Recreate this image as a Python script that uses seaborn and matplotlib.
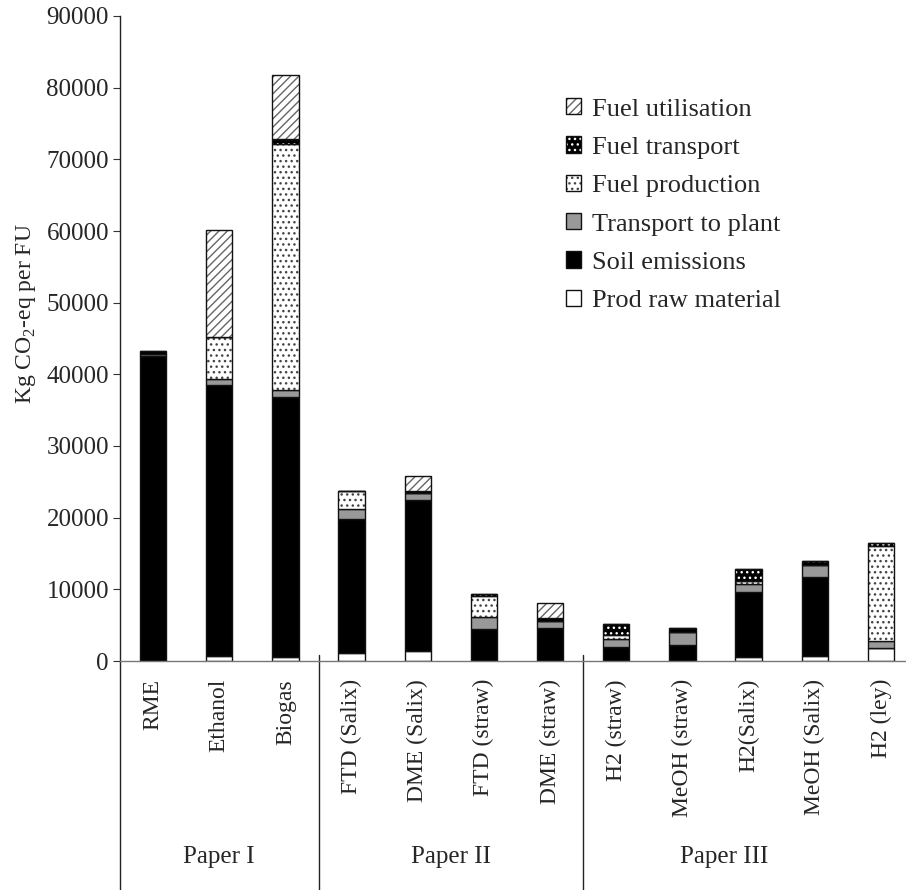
import numpy as np
import pandas as pd
import matplotlib
matplotlib.use("Agg")
import matplotlib.pyplot as plt
import matplotlib.patches as mpatches
import matplotlib.transforms as mtransforms
from matplotlib.colors import to_rgba
import seaborn as sns

# ---------------- data ----------------
categories = ["RME", "Ethanol", "Biogas", "FTD (Salix)", "DME (Salix)", "FTD (straw)",
              "DME (straw)", "H2 (straw)", "MeOH (straw)", "H2(Salix)", "MeOH (Salix)", "H2 (ley)"]
groups = ["Paper I", "Paper II", "Paper III"]
group_sizes = [3, 4, 5]
group_label_x = [1.0, 4.5, 8.63]

prod_raw_material = [0, 700, 600, 1160, 1400, 0, 0, 0, 0, 600, 750, 1800]
soil_emissions = [42600, 37800, 36300, 18650, 21100, 4400, 4650, 1900, 2200, 9000, 10950, 0]
transport_to_plant = [200, 850, 900, 1400, 900, 1800, 950, 1170, 1900, 1150, 1700, 1000]
fuel_production = [0, 5900, 34400, 2500, 0, 2900, 0, 530, 0, 450, 0, 13300]
fuel_transport = [500, 0, 600, 0, 300, 250, 450, 1500, 450, 1600, 500, 300]
fuel_utilisation = [0, 14900, 8900, 0, 2100, 0, 2050, 0, 0, 0, 0, 0]

y_ticks = [0, 10000, 20000, 30000, 40000, 50000, 60000, 70000, 80000, 90000]

# ---------------- style ----------------
sns.set_style("white")
plt.rcParams["font.family"] = ["Liberation Serif", "DejaVu Serif"]
plt.rcParams["mathtext.fontset"] = "custom"
plt.rcParams["mathtext.rm"] = "Liberation Serif"
plt.rcParams["hatch.linewidth"] = 1.0

df = pd.DataFrame({
    "category": categories,
    "Prod raw material": prod_raw_material,
    "Soil emissions": soil_emissions,
    "Transport to plant": transport_to_plant,
    "Fuel production": fuel_production,
    "Fuel transport": fuel_transport,
    "Fuel utilisation": fuel_utilisation,
})

# (name, face, hatch, hatch colour)
components = [
    ("Prod raw material", "white", None, None),
    ("Soil emissions", "black", None, None),
    ("Transport to plant", "#999999", None, None),
    ("Fuel production", "white", "...", "#444444"),
    ("Fuel transport", "black", "...", "#ffffff"),
    ("Fuel utilisation", "white", "////", "#666666"),
]

fig = plt.figure(figsize=(9.06, 8.90), dpi=100)
ax_left, ax_bottom = 120 / 906, 1 - 661 / 890
ax_w, ax_h = 794 / 906, 645 / 890
ax = fig.add_axes([ax_left, ax_bottom, ax_w, ax_h])

bottom = np.zeros(len(categories))
handles = {}
for name, face, hatch, hcol in components:
    vals = df[name].to_numpy(dtype=float)
    kw = dict(edgecolor="#111111", linewidth=1.0)
    if hatch:
        kw["hatch"] = hatch
    sns.barplot(data=df, x="category", y=name, order=categories, bottom=bottom,
                color=face, saturation=1, width=0.4, errorbar=None, ax=ax, **kw)
    cont = ax.containers[-1]
    for p in cont:
        p.set_edgecolor("#111111")
        p.set_facecolor(face)
        if hcol:
            p._hatch_color = to_rgba(hcol)
    h = mpatches.Patch(facecolor=face, edgecolor="#111111", linewidth=1.0, hatch=hatch)
    if hcol:
        h._hatch_color = to_rgba(hcol)
    handles[name] = h
    bottom += vals

# ---------------- axes ----------------
ax.set_xlim(-0.5, len(categories) - 0.5)
ax.set_ylim(0, 90000)
ax.set_yticks(y_ticks)
ax.set_yticklabels([str(v) for v in y_ticks], fontsize=18)
ax.set_xticks(range(len(categories)))
ax.set_xticklabels(categories, rotation=90, fontsize=17, va="top")
ax.set_xticks(np.arange(-0.5, len(categories), 1.0), minor=True)
ax.tick_params(axis="x", which="major", length=0, pad=13)
ax.tick_params(axis="x", which="minor", length=2, direction="in", color="#888888")
ax.tick_params(axis="y", which="major", length=5, direction="out", pad=3,
               color="#333333", left=True)
ax.set_xlabel("")
ax.set_ylabel(r"Kg CO$_\mathrm{2}$-eq per FU", fontsize=17)
ax.yaxis.set_label_coords((38 - 120) / 794, (661 - 314) / 645)

for s in ["top", "right"]:
    ax.spines[s].set_visible(False)
ax.spines["left"].set_color("#222222")
ax.spines["bottom"].set_color("#777777")
ax.spines["left"].set_linewidth(1.0)
ax.spines["bottom"].set_linewidth(1.0)

# group separators and labels below axis
trans = mtransforms.blended_transform_factory(ax.transData, ax.transAxes)
y_bottom = -(890 - 661) / 645
ax.plot([-0.5, -0.5], [0, y_bottom], transform=trans, color="#222222", lw=1.0, clip_on=False)
edge = -0.5
for size in group_sizes[:-1]:
    edge += size
    ax.plot([edge, edge], [0.009, y_bottom], transform=trans, color="#222222", lw=1.0,
            clip_on=False)
for gx, g in zip(group_label_x, groups):
    ax.text(gx, -(857 - 661) / 645, g, transform=trans, ha="center", va="center",
            fontsize=18)

# legend
order = ["Fuel utilisation", "Fuel transport", "Fuel production",
         "Transport to plant", "Soil emissions", "Prod raw material"]
fig.legend([handles[n] for n in order], order, loc="upper left",
           bbox_to_anchor=(566 / 906, 1 - 98 / 890), frameon=False, fontsize=19,
           handlelength=0.58, handleheight=0.58, handletextpad=0.4,
           labelspacing=0.6, borderpad=0, borderaxespad=0)

fig.savefig("out.png", dpi=100)
